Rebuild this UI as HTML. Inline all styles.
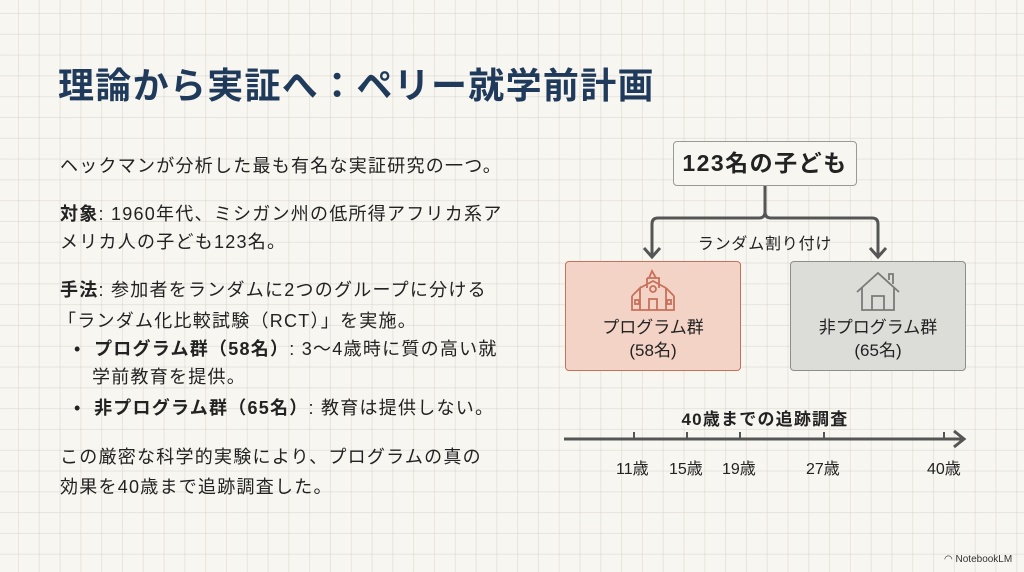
<!DOCTYPE html>
<html><head><meta charset="utf-8"><style>
body{margin:0;width:1024px;height:572px;overflow:hidden;background-color:#f8f6f1;
background-image:linear-gradient(to right,rgba(200,195,185,.35) 1px,transparent 1px),linear-gradient(to bottom,rgba(200,195,185,.35) 1px,transparent 1px);
background-size:20.8px 20.8px;background-position:18px 13px;
font-family:"Liberation Sans","Noto Sans CJK JP",sans-serif;color:#222;position:relative}
.a{position:absolute;white-space:nowrap}
.t{font-size:18px;letter-spacing:1.25px;line-height:28px;left:60px}
b{font-weight:700}
.box{position:absolute;border-radius:4px;box-sizing:border-box}
</style></head><body>
<div class="a" style="left:58px;top:57px;font-size:36px;letter-spacing:1.3px;font-weight:700;color:#1f3a5a;">理論から実証へ：ペリー就学前計画</div>
<div class="a t" style="top:152px">ヘックマンが分析した最も有名な実証研究の一つ。</div>
<div class="a t" style="top:200px"><b>対象</b>: 1960年代、ミシガン州の低所得アフリカ系ア</div>
<div class="a t" style="top:228px">メリカ人の子ども123名。</div>
<div class="a t" style="top:276px"><b>手法</b>: 参加者をランダムに2つのグループに分ける</div>
<div class="a t" style="top:307px;left:58px">「ランダム化比較試験（RCT）」を実施。</div>
<div class="a t" style="top:335px;left:74px">•&nbsp; <b>プログラム群（58名）</b>: 3〜4歳時に質の高い就</div>
<div class="a t" style="top:363px;left:92px">学前教育を提供。</div>
<div class="a t" style="top:394px;left:74px">•&nbsp; <b>非プログラム群（65名）</b>: 教育は提供しない。</div>
<div class="a t" style="top:443px">この厳密な科学的実験により、プログラムの真の</div>
<div class="a t" style="top:473px">効果を40歳まで追跡調査した。</div>

<div class="box" style="left:673px;top:141px;width:184px;height:45px;border:1.5px solid #9a9a95;background:#f8f6f1;font-size:23px;letter-spacing:1.5px;font-weight:700;text-align:center;line-height:42px">123名の子ども</div>
<svg class="a" style="left:0;top:0" width="1024" height="572">
<g fill="none" stroke="#555" stroke-width="3">
<path d="M765 186 V212 Q765 218 759 218 H658 Q652 218 652 224 V256"/>
<path d="M765 212 Q765 218 771 218 H872 Q878 218 878 224 V256"/>
<path d="M644 248 L652 257 L660 248"/><path d="M870 248 L878 257 L886 248"/>
<path d="M564 439 H962"/><path d="M954 431 L964 439 L954 447"/>
<path d="M634 432 V440 M687 432 V440 M740 432 V440 M824 432 V440 M944 432 V440" stroke-width="2"/>
</g>
</svg>
<div class="a" style="left:690px;top:230px;width:150px;text-align:center;font-size:16px;letter-spacing:.8px">ランダム割り付け</div>
<div class="box" style="left:565px;top:261px;width:176px;height:110px;background:#f3d3c6;border:1.5px solid #c8705a"></div>
<div class="box" style="left:790px;top:261px;width:176px;height:110px;background:#dcdcd9;border:1.5px solid #8d8d8a"></div>
<svg class="a" style="left:628px;top:268px" width="50" height="46"><g fill="none" stroke="#c8705a" stroke-width="1.8">
<path d="M21 10 L24 3 L28 10 Z M19 10 H31 V20 M19 10 V20"/><circle cx="25" cy="21" r="3"/>
<path d="M12 20 L25 13 L38 20 M4 28 L12 20 V42 M38 20 L46 28 M38 20 V42 M4 28 V42 H46 V28"/>
<rect x="7" y="32" width="4" height="4"/><rect x="39" y="32" width="4" height="4"/><path d="M21 42 V31 H29 V42"/></g></svg>
<svg class="a" style="left:853px;top:270px" width="50" height="44"><g fill="none" stroke="#7a7a78" stroke-width="1.8">
<path d="M4 22 L25 3 L46 22 M9 18 V40 H41 V18 M19 40 V26 H31 V40 M36 10 V4 H40 V14"/></g></svg>
<div class="a" style="left:565px;top:316px;width:176px;text-align:center;font-size:17px;line-height:23px">プログラム群<br>(58名)</div>
<div class="a" style="left:790px;top:316px;width:176px;text-align:center;font-size:17px;line-height:23px">非プログラム群<br>(65名)</div>
<div class="a" style="left:670px;top:405px;width:190px;text-align:center;font-size:17px;letter-spacing:1.2px;font-weight:700">40歳までの追跡調査</div>
<div class="a" style="left:616px;top:455px;font-size:16px">11歳</div>
<div class="a" style="left:669px;top:455px;font-size:16px">15歳</div>
<div class="a" style="left:722px;top:455px;font-size:16px">19歳</div>
<div class="a" style="left:806px;top:455px;font-size:16px">27歳</div>
<div class="a" style="left:927px;top:455px;font-size:16px">40歳</div>
<div class="a" style="left:944px;top:554px;font-size:10px;color:#333">◠ NotebookLM</div>
</body></html>
